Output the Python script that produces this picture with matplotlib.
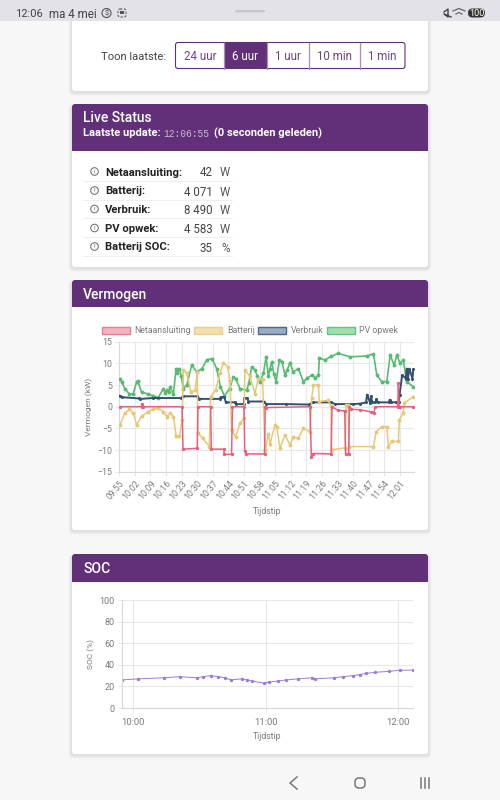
import matplotlib
matplotlib.use("Agg")
import matplotlib.pyplot as plt
from matplotlib.patches import FancyBboxPatch, Rectangle, Circle, Patch

plt.rcParams['font.family'] = ['Roboto', 'DejaVu Sans']

# time in minutes after 09:55, power in kW
pv_t = [0.3, 1.2, 2.5, 4.5, 6.3, 7.8, 8.2, 10, 13, 15.3, 17.5, 19.8, 20.6, 21.3, 22.1, 22.8, 24.3, 25.5, 26, 27, 27.8, 28.8,
        30.3, 32.5, 34.8, 37.1, 39.3, 41.6, 43.7, 45.4, 47.2, 49.6, 51.2, 52.2, 54.2, 57.2,
        58.2, 59.4, 60.9, 62, 63.2, 64.7, 65.9, 66.9, 67.6, 68.4, 69.4, 70.4, 71.9, 73, 74.4, 75.4, 76.6, 78.1, 80.4, 82.6, 84.4, 86.4, 88, 89.4, 89.8, 92.4,
        95, 98.4, 103.6, 111.1, 114.1, 115.6, 117.8, 120.1, 121.6, 123.4, 124.6, 126, 127.5, 129, 132]
pv_kw = [6.4, 5.6, 4.2, 2.9, 3, 5.8, 6, 3.4, 2.9, 2.5, 2.1, 4.2, 3.2, 3.8, 3.3, 4.5, 3, 8.8, 7.8, 8.8, 7, 4.2,
         5, 9.6, 8, 8.8, 10.8, 11.1, 8.8, 4.6, 2.5, 4.2, 6.9, 6.5, 4.2, 3.8,
         5.5, 9.2, 8.5, 7, 5.8, 7.7, 11.5, 7, 8.6, 10.4, 7.5, 5.8, 10.8, 10.4, 7.3, 8.5, 10.2, 8, 8.8, 5.8, 6.6, 7.3, 6.6, 7.3, 11.2, 10.8,
         11.6, 12.3, 11.5, 11.7, 12.2, 7.3, 5.8, 5.8, 11.9, 9.6, 11.9, 10, 10.8, 5.8, 4.6]

verbruik_t = [0.3, 1, 9, 9.5, 15, 27.8, 28.5, 35, 36, 45, 45.5, 47.2, 47.8, 51.8, 52.4, 55.8, 56.2, 57.4, 58, 65, 66, 75, 85,
              87, 95, 97, 105, 108, 110.8, 111.2, 112.6, 113, 113.6, 115, 115.4, 116, 121, 121.4, 122, 124, 125.4, 125.8,
              127, 128.6, 129, 129.6, 130.2, 131.6, 132]
verbruik_kw = [2.5, 2.2, 1.9, 1.8, 2, 2, 2.4, 2.4, 1.8, 1.8, 2.2, 2.2, 1, 1, 0.6, 0.6, 2, 2, 1.2, 1.2, 0.6, 0.6, 0.5,
               1, 1, 0.6, 0.6, 0.7, 1, 2.8, 0.9, 2.4, 1, 1, 1.7, 1, 1, 1.6, 1, 1, 1, 2.7,
               7.3, 6.5, 8.8, 6.5, 8.8, 6.5, 8.6]

net_t = [0.3, 10, 10.3, 10.8, 28.2, 28.6, 35, 35.3, 41, 41.3, 46.8, 47.2, 50.4, 50.8, 56, 56.3, 57, 65.2, 65.5, 66, 85.6, 86.2, 87, 95.1, 95.5,
         98, 101.2, 101.6, 103, 103.3, 104, 108, 113, 114.2, 115, 125, 125.3, 125.6, 126, 132]
net_kw = [0, 0, 0.6, 0, 0, -9.8, -9.6, 0, 0, -9.8, -9.8, -11, -11, 0, 0, -10.2, -10.9, -10.9, 0, -0.2, 0, -11.5, -10.8, -10.9, 0,
          -0.8, -1, -11, -11, 0, -0.6, -0.7, -1.2, -1.4, 0, 0, 5.5, 0, 0, 0]

batterij_t = [0.3, 2.5, 4.5, 6.3, 7.8, 10, 13, 15.3, 17.5, 19.8, 21.3, 22.8, 24.3, 25.5, 27, 28.2, 28.8, 30.3, 32.1, 34, 35, 35.2, 37.4,
              40.4, 41, 43.2, 45.2, 46.7, 48.6, 49.7, 50.4, 50.5, 52.2, 54.2, 56, 56.4, 58.6,
              60.9, 62.4, 64.3, 65.4, 65.6, 66.9, 67.7, 69.9, 70.7, 72.1, 74.4, 76.6, 78.1, 80.4, 82.6, 85.6, 86.4, 87.1, 89.4, 89.8,
              93.9, 95, 95.3, 95.6, 101.4, 101.8, 102.8, 103.1, 114.1, 115.3, 117.8, 120.1, 120.8, 122.3, 125.3, 125.7, 127.5, 127.8, 132]
batterij_kw = [-4.2, -1.5, -0.6, -1.5, -4.2, -2.2, -1.2, -0.6, -0.4, -1.2, -2.3, -1.5, -2.3, -6.8, -6.8, -3, 8.5, 7.7, 3.5, 3.8, 8, -6, -7.3,
               -9.2, 2.3, 3.8, 7.7, 10.2, 9.2, 6, -5.4, -5.4, -7, -3.8, -2.7, 8.5, 7,
               3, 6.5, 6.5, -10, -10, -6.2, -8.5, -4.2, -4.6, -9.6, -6.5, -8.8, -7, -7.3, -5, -5.8, 2, 5, 5, 1.2,
               1.5, 0.2, -10, -9.9, -9.5, 0.4, 0.4, -9.2, -9.2, -5.8, -4.6, -4.6, -9.2, -8, -8, -3, -1.5, 0.8, 2.3]

power_series = ["Netaansluiting", "Batterij", "Verbruik", "PV opwek"]
power_ticks = ["09:55", "10:02", "10:09", "10:16", "10:23", "10:30", "10:37", "10:44", "10:51", "10:58",
               "11:05", "11:12", "11:19", "11:26", "11:33", "11:40", "11:47", "11:54", "12:01"]

# time in minutes after 10:00, SOC in %
soc_t = [-5.3, 2.3, 13.9, 21, 28.7, 31.7, 35.2, 38.5, 41.5, 44.2, 49, 51.6, 53.6, 59.2, 61.4, 65.7, 69.1, 74.7,
         80.8, 82.3, 91, 95, 99.6, 102.6, 105.4, 109.4, 115.9, 120.8, 126.5]
soc_pct = [26, 27, 28, 29, 28, 29, 30, 29, 28, 26, 27, 26, 25, 23, 24, 25, 26, 27,
           28, 27, 28, 29, 30, 31, 32, 33, 34, 35, 35]
soc_ticks = ["10:00", "11:00", "12:00"]

range_buttons = ["24 uur", "6 uur", "1 uur", "10 min", "1 min"]
status_labels = ["Netaansluiting:", "Batterij:", "Verbruik:", "PV opwek:", "Batterij SOC:"]
status_values = ["42", "4 071", "8 490", "4 583", "35"]
status_units = ["W", "W", "W", "W", "%"]

PURPLE = "#613079"
GRID = "#e8e8e8"
TICK = "#7a7a7a"
MID = 'center_baseline'

fig = plt.figure(figsize=(5, 8), dpi=100, facecolor="#f7f7f8")

# background layer in pixel coordinates for the app screen
bg = fig.add_axes([0, 0, 1, 1])
bg.set_xlim(0, 500)
bg.set_ylim(800, 0)
bg.axis('off')


def card(y0, y1, header=None):
    for grow, alpha in [(3.5, 0.02), (2.5, 0.03), (1.5, 0.04)]:
        bg.add_patch(FancyBboxPatch((72 - grow, y0 + 1), 356 + 2 * grow, y1 - y0 + grow,
                                    boxstyle="round,pad=0,rounding_size=4", fc="black", ec="none", alpha=alpha))
    bg.add_patch(FancyBboxPatch((72, y0), 356, y1 - y0, boxstyle="round,pad=0,rounding_size=3", fc="white", ec="none"))
    if header:
        bg.add_patch(FancyBboxPatch((72, y0), 356, header - y0, boxstyle="round,pad=0,rounding_size=3", fc=PURPLE, ec="none"))
        bg.add_patch(Rectangle((72, y0 + 5), 356, header - y0 - 5, fc=PURPLE, ec="none"))


card(10, 91)
card(104, 267, 151)
card(280, 530, 307)
card(554, 754, 582)

# status bar
bg.add_patch(Rectangle((0, 0), 500, 21, fc="#e2e2e8", ec="none", zorder=5))
bg.add_patch(FancyBboxPatch((235, 10), 30, 2.4, boxstyle="round,pad=0,rounding_size=1.2", fc="#c6c6cc", ec="none", zorder=6))
bg.text(15, 13, "12:06", fontsize=8, color="#444444", va=MID, zorder=6)
bg.text(49, 13, "ma 4 mei", fontsize=8.3, color="#444444", va=MID, zorder=6)
bg.add_patch(Circle((106.5, 13), 4.5, fc="none", ec="#555555", lw=0.8, zorder=6))
bg.text(106.5, 13, "$", fontsize=5.5, color="#444444", ha='center', va=MID, zorder=6)
bg.add_patch(FancyBboxPatch((118, 9), 8, 8, boxstyle="round,pad=0,rounding_size=2", fc="none", ec="#555555", lw=0.8, ls=(0, (2, 1.5)), zorder=6))
bg.add_patch(Rectangle((120, 11), 4, 3, fc="#555555", ec="none", zorder=6))
bg.plot([444, 448, 448, 444, 451], [12, 9, 17, 14, 17], color="#444444", lw=1, zorder=6)
bg.plot([453, 459, 465], [11, 8.5, 11], color="#666666", lw=0.9, zorder=6)
bg.plot([456, 459, 462], [14, 12.5, 14], color="#666666", lw=0.9, zorder=6)
bg.add_patch(FancyBboxPatch((468, 8.5), 17, 9, boxstyle="round,pad=0,rounding_size=4.5", fc="#333333", ec="none", zorder=6))
bg.text(476.5, 13, "100", fontsize=6.6, color="white", ha='center', va=MID, zorder=7)

# range selector
bg.text(166.5, 55.5, "Toon laatste:", fontsize=8.1, color="#444444", ha='right', va=MID)
edges = [175.5, 224, 267, 309, 360, 405]
bg.add_patch(Rectangle((edges[1], 42.5), edges[2] - edges[1], 26, fc=PURPLE, ec="none"))
bg.add_patch(FancyBboxPatch((edges[0], 42.5), edges[-1] - edges[0], 26, boxstyle="round,pad=0,rounding_size=2.5", fc="none", ec=PURPLE, lw=0.8))
for e in edges[1:-1]:
    bg.plot([e, e], [42.5, 68.5], color="#a98fb8", lw=0.9)
for i, name in enumerate(range_buttons):
    col = "white" if i == 1 else "#6c4585"
    bg.text((edges[i] + edges[i + 1]) / 2, 55.5, name, fontsize=8.3, color=col, ha='center', va=MID)

# card headers
bg.text(83, 117, "Live Status", fontsize=10, color="white", va=MID, fontweight='medium')
bg.text(83, 132.5, "Laatste update:", fontsize=8, color="white", va=MID, fontweight='bold')
bg.text(163.5, 133, "12:06:55", fontsize=6.9, color="#cbb8d6", va=MID, family=['Liberation Mono'])
bg.text(214, 132.5, "(0 seconden geleden)", fontsize=8, color="white", va=MID, fontweight='bold')
bg.text(83, 293.5, "Vermogen", fontsize=10, color="white", va=MID, fontweight='medium')
bg.text(83, 567.5, "SOC", fontsize=10, color="white", va=MID, fontweight='medium')

# status table
row_y = [171.5, 190.5, 209, 228, 246.5]
for y, lab, val, unit in zip(row_y, status_labels, status_values, status_units):
    bg.add_patch(Circle((94.5, y), 3.8, fc="none", ec="#666666", lw=0.7))
    bg.text(94.5, y, "!", fontsize=4.6, color="#555555", ha='center', va=MID)
    bg.text(105, y, lab, fontsize=8.1, color="#222222", fontweight='bold', va=MID)
    bg.text(212.5, y, val, fontsize=8.3, color="#444444", ha='right', va=MID)
    bg.text(229.5, y, unit, fontsize=8.3, color="#555555", ha='right', va=MID)
    bg.plot([83, 232], [y + 9.3, y + 9.3], color="#eeeeee", lw=0.7)

# navigation bar
bg.plot([297, 290, 297], [777, 783, 789], color="#77777a", lw=1.1)
bg.add_patch(FancyBboxPatch((355, 778), 10, 10, boxstyle="round,pad=0,rounding_size=4", fc="none", ec="#77777a", lw=1.1))
for x in [421, 425, 429]:
    bg.plot([x, x], [778, 788], color="#77777a", lw=1.1)


def chart_axes(left, right, top, bottom):
    ax = fig.add_axes([left / 500, 1 - bottom / 800, (right - left) / 500, (bottom - top) / 800])
    ax.grid(True, color=GRID, lw=0.8)
    ax.set_axisbelow(True)
    ax.tick_params(colors=TICK, labelsize=6.3, length=3, width=0.7, color=GRID, pad=2)
    for s in ['top', 'right']:
        ax.spines[s].set_visible(False)
    for s in ['left', 'bottom']:
        ax.spines[s].set_color("#d8d8d8")
        ax.spines[s].set_linewidth(0.8)
    return ax


# power chart
ax = chart_axes(119.3, 414, 341.7, 471.7)
ax.plot(pv_t, pv_kw, color="#58bb74", lw=1.2, marker='o', ms=1.8, zorder=3)
ax.plot(verbruik_t, verbruik_kw, color="#34506f", lw=1.4, marker='o', ms=1.2, zorder=4)
ax.plot(batterij_t, batterij_kw, color="#e6c878", lw=1.1, marker='o', ms=1.8, zorder=5)
ax.plot(net_t, net_kw, color="#e5607f", lw=1.1, marker='o', ms=1.4, zorder=6)
ax.set_xlim(0, 132.3)
ax.set_ylim(-15, 15)
ax.set_yticks(range(-15, 16, 5))
ax.set_xticks([7 * i for i in range(len(power_ticks))])
ax.set_xticklabels(power_ticks, rotation=50, ha='right', rotation_mode='anchor')
ax.set_xlabel("Tijdstip", fontsize=6.2, color=TICK, labelpad=4)
ax.set_ylabel("Vermogen (kW)", fontsize=6, color=TICK, labelpad=3)
handles = [Patch(fc="#f7b3c2", ec="#e57f98", label=power_series[0]),
           Patch(fc="#f1dfae", ec="#e8cf90", label=power_series[1]),
           Patch(fc="#9aacbf", ec="#4c6885", label=power_series[2]),
           Patch(fc="#a0e0b0", ec="#66c284", label=power_series[3])]
ax.legend(handles=handles, loc='lower center', bbox_to_anchor=(0.444, 1.03), ncol=4, frameon=False,
          fontsize=6.3, labelcolor=TICK, handlelength=3.2, handleheight=0.9, handletextpad=0.5,
          columnspacing=0.4, borderaxespad=0.1, borderpad=0.2)

# SOC chart
ax2 = chart_axes(121.7, 413.3, 600, 708)
ax2.plot(soc_t, soc_pct, color="#9a7cd6", lw=0.7, marker='o', ms=1.4)
ax2.set_xlim(-5.3, 126.8)
ax2.set_ylim(0, 100)
ax2.set_yticks(range(0, 101, 20))
ax2.set_xticks([0, 60, 120])
ax2.set_xticklabels(soc_ticks)
ax2.tick_params(axis='y', labelsize=6.5)
ax2.tick_params(axis='x', labelsize=6.8, pad=4)
ax2.set_xlabel("Tijdstip", fontsize=6.2, color=TICK, labelpad=4)
ax2.set_ylabel("SOC (%)", fontsize=6, color=TICK, labelpad=3)

fig.savefig("out.png", dpi=100, facecolor=fig.get_facecolor())
